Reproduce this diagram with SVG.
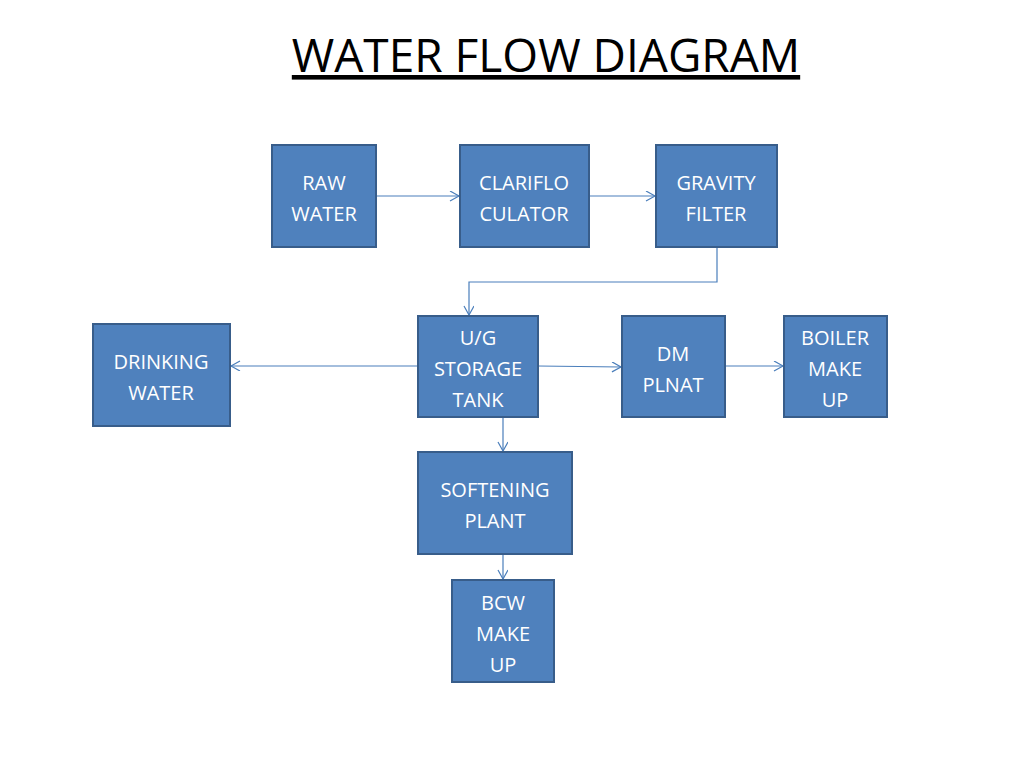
<svg xmlns="http://www.w3.org/2000/svg" width="1024" height="768" viewBox="0 0 1024 768">
<style>
.n rect{fill:#4F81BD;stroke:#385D8A;stroke-width:2}
.n text{font-family:"Open Sans","Liberation Sans",sans-serif;font-size:20px;fill:#fff;text-anchor:middle}
.c path{fill:none;stroke:#4A7EBB;stroke-width:1.2;marker-end:url(#a)}
</style>
<defs><marker id="a" markerWidth="12" markerHeight="12" refX="10" refY="5" orient="auto" markerUnits="userSpaceOnUse"><path d="M1,0 L10,5 L1,10" fill="none" stroke="#4A7EBB" stroke-width="1.2"/></marker></defs>
<rect width="1024" height="768" fill="#fff"/>
<text x="546" y="72" font-family="'Open Sans','Liberation Sans',sans-serif" font-size="46" text-anchor="middle" text-decoration="underline" fill="#000">WATER FLOW DIAGRAM</text>
<g class="c">
<path d="M376,196 H459"/>
<path d="M589,196 H655"/>
<path d="M717,247 V282 H469 V315"/>
<path d="M418,366 H231"/>
<path d="M538,366 L621,367"/>
<path d="M725,366 H783"/>
<path d="M503,417 V451"/>
<path d="M503,554 V579"/>
</g>
<g id="raw" class="n"><rect x="272" y="145" width="104" height="102"/><text x="324" y="190">RAW</text><text x="324" y="221">WATER</text></g>
<g id="clar" class="n"><rect x="460" y="145" width="129" height="102"/><text x="524" y="190">CLARIFLO</text><text x="524" y="221">CULATOR</text></g>
<g id="grav" class="n"><rect x="656" y="145" width="121" height="102"/><text x="716" y="190">GRAVITY</text><text x="716" y="221">FILTER</text></g>
<g id="drink" class="n"><rect x="93" y="324" width="137" height="102"/><text x="161" y="369">DRINKING</text><text x="161" y="400">WATER</text></g>
<g id="ug" class="n"><rect x="418" y="316" width="120" height="101"/><text x="478" y="345">U/G</text><text x="478" y="376">STORAGE</text><text x="478" y="407">TANK</text></g>
<g id="dm" class="n"><rect x="622" y="316" width="103" height="101"/><text x="673" y="361">DM</text><text x="673" y="392">PLNAT</text></g>
<g id="boiler" class="n"><rect x="784" y="316" width="103" height="101"/><text x="835" y="345">BOILER</text><text x="835" y="376">MAKE</text><text x="835" y="407">UP</text></g>
<g id="soft" class="n"><rect x="418" y="452" width="154" height="102"/><text x="495" y="497">SOFTENING</text><text x="495" y="528">PLANT</text></g>
<g id="bcw" class="n"><rect x="452" y="580" width="102" height="102"/><text x="503" y="610">BCW</text><text x="503" y="641">MAKE</text><text x="503" y="672">UP</text></g>
</svg>
